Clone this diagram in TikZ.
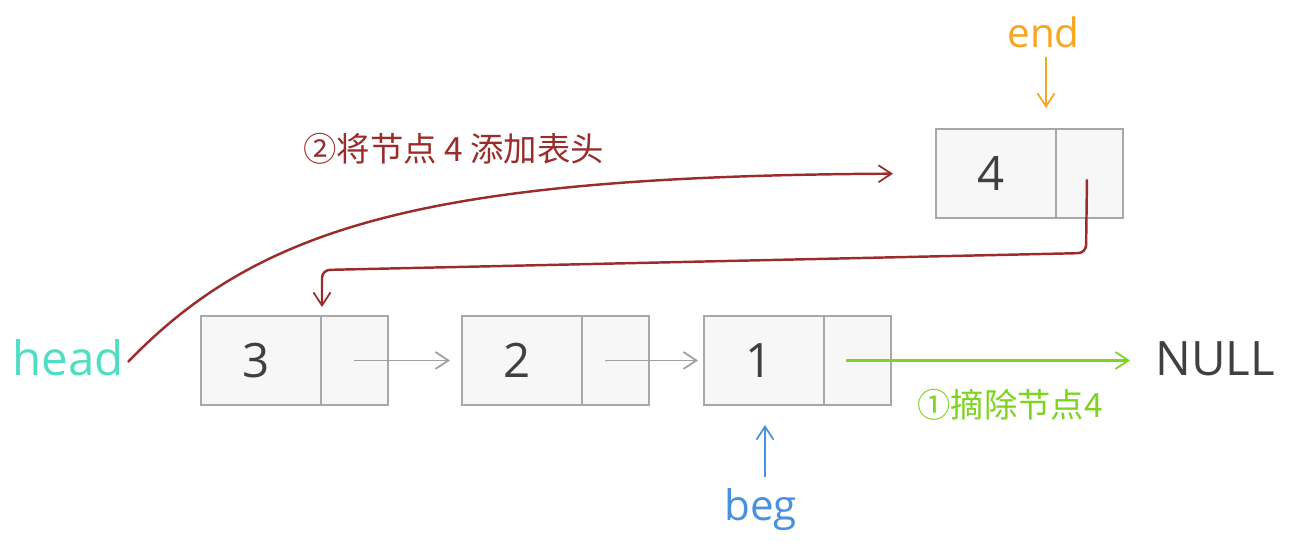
\documentclass[tikz,border=0pt]{standalone}
\usepackage{fontspec}
\setmainfont{Open Sans}
\newfontfamily\cjk{Noto Sans CJK SC}
\usetikzlibrary{arrows.meta}
\definecolor{boxfill}{HTML}{F7F7F7}
\definecolor{boxline}{HTML}{A8A8A8}
\definecolor{numtxt}{HTML}{404040}
\definecolor{headc}{HTML}{50DEC2}
\definecolor{endc}{HTML}{F5A623}
\definecolor{begc}{HTML}{4A90E2}
\definecolor{greenc}{HTML}{7ED321}
\definecolor{redc}{HTML}{9B2C2C}
\definecolor{grayarr}{HTML}{A0A0A0}
\tikzset{
  datacell/.style={draw=boxline, fill=boxfill, line width=1.1pt, inner sep=0pt,
    minimum width=2.4cm, minimum height=1.78cm, anchor=north west,
    font=\fontsize{27}{30}\selectfont, text=numtxt},
  ptrcell/.style={draw=boxline, fill=boxfill, line width=1.1pt, inner sep=0pt,
    minimum width=1.34cm, minimum height=1.78cm, anchor=north west},
  barb/.style={-{Straight Barb[length=0.26cm, width=0.34cm, line width=1pt]}},
  grayline/.style={draw=grayarr, line width=1.1pt, barb},
  lbl/.style={inner sep=0pt, anchor=base west}
}
\begin{document}
\begin{tikzpicture}[x=0.02cm, y=-0.02cm]
\useasboundingbox (0,0) rectangle (1307,545);
% list nodes
\node[datacell] (n3d) at (200,315) {\hspace{-0.2cm}3};
\node[ptrcell] (n3p) at (320,315) {};
\node[datacell] (n2d) at (461,315) {\hspace{-0.2cm}2};
\node[ptrcell] (n2p) at (581,315) {};
\node[datacell] (n1d) at (703,315) {\hspace{-0.2cm}1};
\node[ptrcell] (n1p) at (823,315) {};
\node[datacell] (n4d) at (935,128) {\hspace{-0.2cm}4};
\node[ptrcell] (n4p) at (1055,128) {};
% labels
\node[lbl, text=headc, font=\fontsize{27}{30}\selectfont] (head) at (12,375) {head};
\node[lbl, text=numtxt, font=\fontsize{27}{30}\selectfont] (null) at (1155,375) {NULL};
\node[lbl, text=endc, font=\fontsize{23}{26}\selectfont] (end) at (1007,47) {end};
\node[lbl, text=begc, font=\fontsize{24}{27}\selectfont] (beg) at (724,520) {beg};
\node[lbl, text=redc, font=\cjk\fontsize{19}{22}\selectfont] (lab2) at (303,161) {②将节点 4 添加表头};
\node[lbl, text=greenc, font=\cjk\fontsize{19}{22}\selectfont] (lab1) at (917,417) {①摘除节点4};
% free-end coordinates
\coordinate (endtop) at (1046,57);
\coordinate (endtip) at (1046,108);
\coordinate (begbot) at (765,477);
\coordinate (begtip) at (765,425);
\coordinate (headstart) at (128,362);
\coordinate (c1) at (1086,253);
\coordinate (c2) at (322,270);
% gray arrows
\draw[grayline, shorten >=0.22cm] (n3p.center) -- (n2d.west);
\draw[grayline, shorten >=0.1cm] ([xshift=-0.2cm]n2p.center) -- (n1d.west);
% green arrow
\draw[draw=greenc, line width=1.2pt, barb, shorten >=0.5cm] ([xshift=-0.22cm]n1p.center) -- (null.west |- n1p.center);
% end / beg
\draw[draw=endc, line width=1.2pt, barb] (endtop) -- (endtip);
\draw[draw=begc, line width=1.2pt, barb] (begbot) -- (begtip);
% red arrows
\draw[draw=redc, line width=1.4pt, barb, shorten >=0.84cm] (headstart) .. controls (260,225) and (430,176) .. (n4d.west);
\draw[draw=redc, line width=1.4pt, barb, rounded corners=0.16cm, shorten >=0.16cm]
  ([yshift=-0.12cm,xshift=-0.05cm]n4p.center) -- (c1) -- (c2) -- (c2 |- n3d.north);
\end{tikzpicture}
\end{document}
